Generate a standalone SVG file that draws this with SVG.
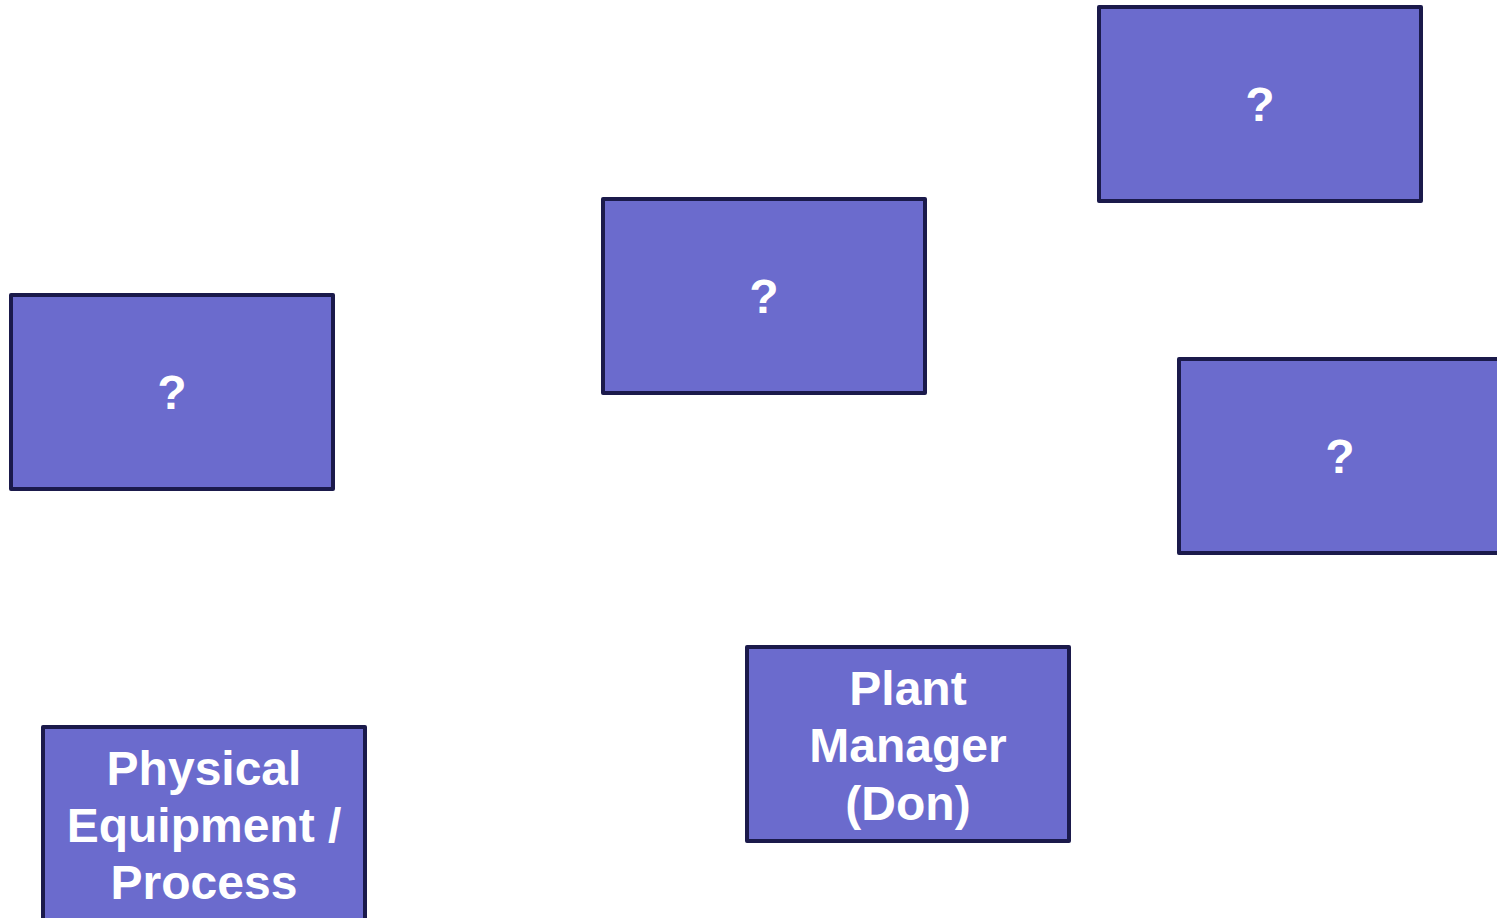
<svg xmlns="http://www.w3.org/2000/svg" width="1497" height="918" viewBox="0 0 1497 918">
<style>
.box{fill:#6B6BCD;stroke:#1B1A4B;stroke-width:4;stroke-linejoin:round}
.t{fill:#FFFFFF;font-family:"Liberation Sans",Arial,sans-serif;font-weight:bold;font-size:48px;text-anchor:middle}
</style>
<rect width="1497" height="918" fill="#FFFFFF"/>
<g id="connectors"></g>
<g id="node-q1"><rect class="box" x="1099" y="7" width="322" height="194"/><text class="t" x="1260" y="121">?</text></g>
<g id="node-q2"><rect class="box" x="603" y="199" width="322" height="194"/><text class="t" x="764" y="313">?</text></g>
<g id="node-q3"><rect class="box" x="11" y="295" width="322" height="194"/><text class="t" x="172" y="409">?</text></g>
<g id="node-q4"><rect class="box" x="1179" y="359" width="322" height="194"/><text class="t" x="1340" y="473">?</text></g>
<g id="node-plant-manager"><rect class="box" x="747" y="647" width="322" height="194"/><text class="t" x="908" y="705">Plant</text><text class="t" x="908" y="762">Manager</text><text class="t" x="908" y="820">(Don)</text></g>
<g id="node-physical"><rect class="box" x="43" y="727" width="322" height="194"/><text class="t" x="204" y="785">Physical</text><text class="t" x="204" y="842">Equipment /</text><text class="t" x="204" y="899">Process</text></g>
</svg>
